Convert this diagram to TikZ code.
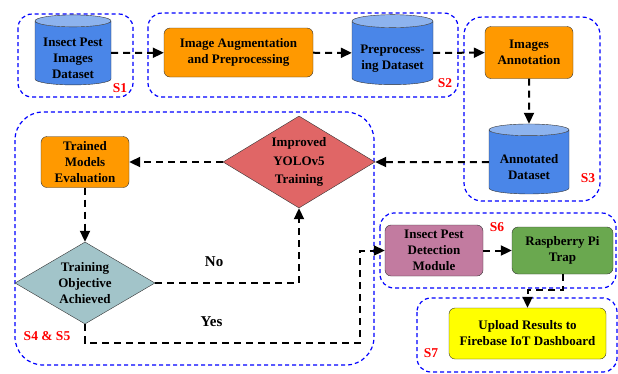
\documentclass[tikz,border=0pt]{standalone}
\usepackage{fontspec}
\setmainfont{Liberation Serif}
\usetikzlibrary{shapes.geometric,arrows.meta}
\definecolor{procorange}{HTML}{FF9900}
\definecolor{dbblue}{HTML}{4A86E8}
\definecolor{dbtop}{HTML}{8DB3EE}
\definecolor{trainred}{HTML}{E06666}
\definecolor{checkteal}{HTML}{A2C4C9}
\definecolor{detectpurple}{HTML}{C27BA0}
\definecolor{trapgreen}{HTML}{6AA84F}
\definecolor{uploadyellow}{HTML}{FFFF00}
% pushes the cylinder text below the top ellipse
\newcommand{\dbstrut}{\rule{0pt}{19pt}}
\tikzset{
  group/.style={draw=blue,line width=1.2pt,dash pattern=on 4pt off 3pt,rounded corners=14pt},
  proc/.style={draw=black!80,rounded corners=6pt,align=center,inner sep=1pt},
  db/.style={cylinder,shape border rotate=90,aspect=0.2,draw=black!80,
    cylinder uses custom fill,cylinder body fill=dbblue,cylinder end fill=dbtop,
    align=center,inner sep=0pt},
  dec/.style={diamond,draw=black!80,align=center,inner sep=0pt,aspect=1.65},
  flow/.style={-{Triangle[length=11pt,width=10pt]},line width=2pt,dash pattern=on 7pt off 5pt},
  tag/.style={text=red,font=\fontsize{13.5}{16}\selectfont\bfseries},
  answer/.style={font=\fontsize{15}{18}\selectfont\bfseries}
}
\begin{document}
\begin{tikzpicture}[x=1pt,y=-1pt,font=\fontsize{13}{16}\selectfont\bfseries]
    \useasboundingbox (0,0) rectangle (618,373);

    % stage boxes
    \draw[group] (18,14) rectangle (133,97);
    \draw[group] (148,13) rectangle (458,97);
    \draw[group,rounded corners=18pt] (464,17) rectangle (600,201);
    \draw[group,rounded corners=28pt] (15,112) rectangle (374,365);
    \draw[group] (380,213) rectangle (616,288);
    \draw[group] (417,298) rectangle (617,372);

    % S1 - S3
    \node[db,minimum width=76,minimum height=70] (pestdata) at (73,53) {\dbstrut Insect Pest\\Images\\Dataset};
    \node[proc,fill=procorange,minimum width=149,minimum height=49] (augment) at (238.5,52.5) {Image Augmentation\\and Preprocessing};
    \node[db,minimum width=81,minimum height=70] (prepdata) at (392.5,53) {\dbstrut Preprocess-\\ing Dataset};
    \node[proc,fill=procorange,minimum width=88,minimum height=52] (annotate) at (529,52.5) {Images\\Annotation};
    \node[db,minimum width=80,minimum height=70] (annodata) at (529,162) {\dbstrut Annotated\\Dataset};

    % S4 & S5
    \node[dec,fill=trainred,minimum width=152,minimum height=92,font=\fontsize{13}{18.5}\selectfont\bfseries] (training) at (299,162) {Improved\\YOLOv5\\Training};
    \node[proc,fill=procorange,minimum width=88,minimum height=51] (evaluate) at (85,162) {Trained\\Models\\Evaluation};
    \node[dec,fill=checkteal,minimum width=140,minimum height=82] (objective) at (85,283) {Training\\Objective\\Achieved};

    % S6 & S7
    \node[proc,fill=detectpurple,minimum width=98,minimum height=51] (detect) at (434,250.5) {Insect Pest\\Detection\\Module};
    \node[proc,fill=trapgreen,minimum width=101,minimum height=47] (rpitrap) at (562.5,250.5) {Raspberry Pi\\Trap};
    \node[proc,fill=uploadyellow,minimum width=157,minimum height=51] (upload) at (527.5,333.5) {Upload Results to\\Firebase IoT Dashboard};

    % labels
    \node[tag] (s1) at (120,88) {S1};
    \node[tag] (s2) at (445,83) {S2};
    \node[tag] (s3) at (588,178) {S3};
    \node[tag] (s45) at (47,336) {S4 \& S5};
    \node[tag] (s6) at (497,227) {S6};
    \node[tag] (s7) at (431,353) {S7};

    % flow
    \draw[flow] (pestdata) -- (augment);
    \draw[flow] (augment) -- (prepdata);
    \draw[flow] (prepdata) -- (annotate);
    \draw[flow] (annotate) -- (annodata);
    \draw[flow] (annodata) -- (training);
    \draw[flow] (training) -- (evaluate);
    \draw[flow] (evaluate) -- (objective);
    \draw[flow] (objective.east) -| node[answer,pos=0.205,above=12pt] (nolabel) {No} (training.south);
    \coordinate (yesturn) at (360,343);
    \draw[flow] (objective.south) |- node[answer,pos=0.73,above=12pt] (yeslabel) {Yes} (yesturn) |- (detect.west);
    \draw[flow] (detect) -- (rpitrap);
    \draw[flow] (rpitrap.south) -- ++(0,16) -| (upload.north);
\end{tikzpicture}
\end{document}
